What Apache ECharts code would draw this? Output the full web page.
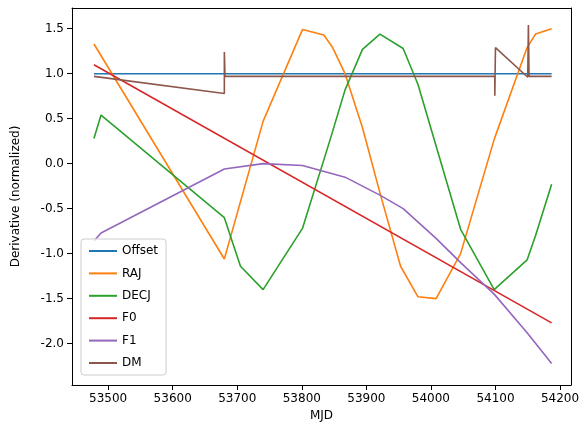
<!DOCTYPE html><html><head><meta charset="utf-8"><script src="https://cdn.jsdelivr.net/npm/echarts@6/dist/echarts.min.js"></script></head><body style="margin:0"><div id="c" style="width:587px;height:432px"></div><script>
const xTicks=[53500,53600,53700,53800,53900,54000,54100,54200];
const yTicks=[-2.0,-1.5,-1.0,-0.5,0.0,0.5,1.0,1.5];
const offset=[[53478,1.0],[54187,1.0]];
const raj=[[53478,1.33],[53680,-1.06],[53740,0.47],[53801,1.49],[53834,1.43],[53847,1.3],[53867,1.0],[53894,0.4],[53922,-0.35],[53953,-1.14],[53980,-1.48],[54008,-1.5],[54046,-1.0],[54098,0.27],[54149,1.29],[54162,1.44],[54187,1.5]];
const decj=[[53478,0.28],[53489,0.54],[53680,-0.6],[53705,-1.14],[53740,-1.4],[53801,-0.72],[53844,0.27],[53867,0.82],[53894,1.27],[53921,1.44],[53957,1.28],[53980,0.88],[54046,-0.73],[54098,-1.4],[54149,-1.07],[54162,-0.8],[54187,-0.23]];
const f0=[[53478,1.1],[54187,-1.77]];
const f1=[[53478,-0.86],[53489,-0.77],[53680,-0.06],[53740,0.0],[53801,-0.02],[53867,-0.15],[53921,-0.35],[53957,-0.5],[54008,-0.83],[54046,-1.1],[54098,-1.45],[54149,-1.88],[54187,-2.22]];
const dm=[[53478,0.97],[53680,0.78],[53680,1.24],[53681,0.97],[54099,0.97],[54099,0.755],[54100,1.29],[54150,0.96],[54151,1.54],[54152,0.97],[54187,0.97]];
const names=['Offset','RAJ','DECJ','F0','F1','DM'];
const datas=[offset,raj,decj,f0,f1,dm];
const colors=['#1f77b4','#ff7f0e','#2ca02c','#d62728','#9467bd','#8c564b'];
const ch=echarts.init(document.getElementById('c'));
const ax={color:'#000',fontSize:12,fontFamily:'DejaVu Sans'};
const XMIN=53444,XMAX=54217,YMIN=-2.46,YMAX=1.73;
const blank={show:false};
ch.setOption({animation:false,color:colors,
grid:{left:72,right:16,top:8,bottom:47},
legend:{orient:'vertical',left:81,top:239,itemWidth:28,itemHeight:2,itemGap:10.4,icon:'rect',textStyle:{fontSize:12,fontFamily:'DejaVu Sans',color:'#000'},backgroundColor:'rgba(255,255,255,0.8)',borderColor:'#ccc',borderWidth:1,borderRadius:3,padding:[6,8,6,8],data:names},
xAxis:[{type:'value',min:XMIN,max:XMAX,name:'MJD',nameLocation:'middle',nameGap:25,nameTextStyle:ax,
 axisLabel:Object.assign({customValues:xTicks,formatter:v=>String(v)},ax),axisLine:{onZero:false,lineStyle:{color:'#000'}},axisTick:{customValues:xTicks,lineStyle:{color:'#000'}},splitLine:blank},
 {type:'value',position:'top',min:XMIN,max:XMAX,axisLabel:blank,axisTick:blank,splitLine:blank,axisLine:{show:true,onZero:false,lineStyle:{color:'#000'}}}],
yAxis:[{type:'value',min:YMIN,max:YMAX,name:'Derivative (normalized)',nameLocation:'middle',nameGap:50,nameTextStyle:ax,
 axisLabel:Object.assign({customValues:yTicks,formatter:v=>v.toFixed(1)},ax),axisLine:{show:true,onZero:false,lineStyle:{color:'#000'}},axisTick:{show:true,customValues:yTicks,lineStyle:{color:'#000'}},splitLine:blank},
 {type:'value',position:'right',min:YMIN,max:YMAX,axisLabel:blank,axisTick:blank,splitLine:blank,axisLine:{show:true,onZero:false,lineStyle:{color:'#000'}}}],
series:names.map((n,i)=>({name:n,type:'line',data:datas[i],showSymbol:false,lineStyle:{width:1.6},z:i===5?10:2}))
});
</script></body></html>
